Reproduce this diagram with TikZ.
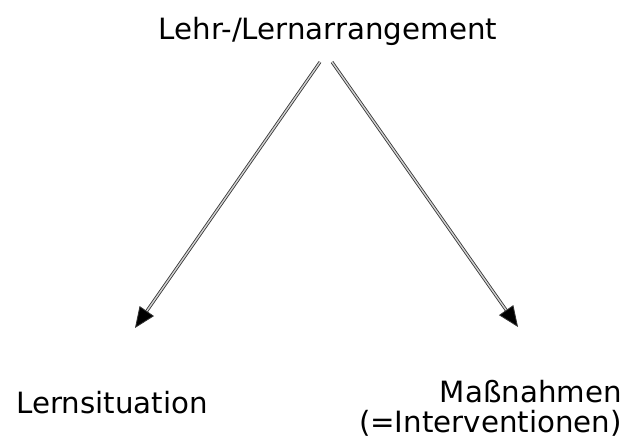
\documentclass[tikz,border=0pt]{standalone}
\usepackage{fontspec}
\setmainfont{DejaVu Sans}
\usetikzlibrary{arrows.meta}
\tikzset{
    lbl/.style={font=\fontsize{25}{25.5}\selectfont, inner sep=0pt},
    dblarrow/.style={draw=black!80, line width=0.7pt, double=gray!35, double distance=1.2pt,
        -{Triangle[length=0.62cm,width=0.52cm,fill=black]}}
}
\begin{document}
\begin{tikzpicture}[x=0.03cm,y=-0.03cm]
    \useasboundingbox (0,0) rectangle (624,441);
    \node[lbl, anchor=base] (arrangement) at (328,39) {Lehr-/Lernarrangement};
    \node[lbl, anchor=base west] (situation) at (16,413) {Lernsituation};
    \node[lbl, anchor=base east, align=right] (massnahmen) at (622,432) {Maßnahmen\\(=Interventionen)};
    \coordinate (startL) at (320,62);
    \coordinate (startR) at (332,62);
    \coordinate (tipL) at (135,328);
    \coordinate (tipR) at (518,327);
    \draw[dblarrow] (startL) -- (tipL);
    \draw[dblarrow] (startR) -- (tipR);
\end{tikzpicture}
\end{document}
